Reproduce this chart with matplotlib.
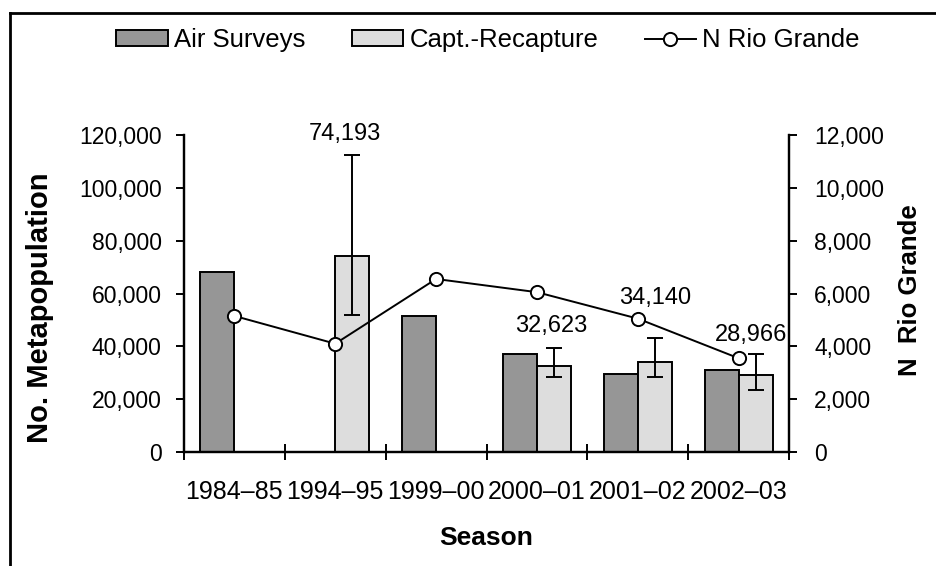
import numpy as np
import matplotlib
matplotlib.use("Agg")
from matplotlib import pyplot as plt
from matplotlib.lines import Line2D

plt.rcParams['font.family'] = ['Liberation Sans', 'DejaVu Sans']

seasons = ["1984\u201385", "1994\u201395", "1999\u201300", "2000\u201301", "2001\u201302", "2002\u201303"]
air_surveys = [68000, np.nan, 51500, 37000, 29500, 31000]
capt_recapture = [np.nan, 74193, np.nan, 32623, 34140, 28966]
cr_err_low = [np.nan, 51900, np.nan, 28400, 28400, 23500]
cr_err_high = [np.nan, 112400, np.nan, 39300, 43200, 37100]
n_rio_grande = [5150, 4100, 6550, 6050, 5050, 3550]

# where the value labels sit (data units) and their sideways nudge (px)
label_y = [np.nan, 120500, np.nan, 47700, 58300, 44300]
label_dx = [0, -7, 0, -3, 0, -5]

fig = plt.figure(figsize=(9.36, 5.66), dpi=100)
ax = fig.add_axes([184 / 936, 1 - 452 / 566, 605 / 936, 317 / 566])
ax2 = ax.twinx()

x = np.arange(len(seasons))
w = 0.337
cr = np.array(capt_recapture)
err = [cr - np.array(cr_err_low), np.array(cr_err_high) - cr]

ax.bar(x - w / 2, air_surveys, w, color="#969696", edgecolor="black", lw=1.4,
       label="Air Surveys")
ax.bar(x + w / 2, capt_recapture, w, color="#dddddd", edgecolor="black", lw=1.4,
       label="Capt.-Recapture")
ax.errorbar(x + w / 2, capt_recapture, yerr=err, fmt="none", ecolor="black",
            elinewidth=1.4, capsize=5.5, capthick=1.4)
for i, v in enumerate(capt_recapture):
    if not np.isnan(v):
        ax.annotate(f"{v:,.0f}", (x[i] + w / 2, label_y[i]), xytext=(label_dx[i], 0),
                    textcoords="offset pixels", ha="center", va="center", fontsize=17,
                    annotation_clip=False)

ax2.plot(x, n_rio_grande, color="black", lw=1.4, marker="o", ms=9.5,
         mfc="white", mec="black", mew=1.4, label="N Rio Grande", zorder=5)

ax.set_xlim(-0.5, len(seasons) - 0.5)
ax.set_ylim(0, 120000)
ax2.set_ylim(0, 12000)
ax.set_yticks(np.arange(0, 120001, 20000))
ax2.set_yticks(np.arange(0, 12001, 2000))
ax.yaxis.set_major_formatter(matplotlib.ticker.StrMethodFormatter("{x:,.0f}"))
ax2.yaxis.set_major_formatter(matplotlib.ticker.StrMethodFormatter("{x:,.0f}"))

ax.set_xticks(np.arange(-0.5, len(seasons)), labels=[])
ax.set_xticks(x, labels=seasons, minor=True)
ax.tick_params(axis="x", which="major", direction="inout", length=12, width=1.4)
ax.tick_params(axis="x", which="minor", length=0, labelsize=18, pad=20)
ax.tick_params(axis="y", direction="out", length=6, width=1.4, labelsize=16.5, pad=10)
ax2.tick_params(axis="y", direction="out", length=6, width=1.4, labelsize=16.5, pad=12)

for a in (ax, ax2):
    a.spines["top"].set_visible(False)
    for s in a.spines.values():
        s.set_linewidth(1.6)
ax2.patch.set_visible(False)

ax.set_xlabel("Season", fontsize=19, fontweight="bold")
ax.xaxis.set_label_coords(0.5, -0.235)
ax.set_ylabel("No. Metapopulation", fontsize=21, fontweight="bold")
ax.yaxis.set_label_coords(-0.215, 0.454)
ax2.set_ylabel("N  Rio Grande", fontsize=18.5, fontweight="bold")
ax2.yaxis.set_label_coords(1.18, 0.51)

h1, l1 = ax.get_legend_handles_labels()
h2, l2 = ax2.get_legend_handles_labels()
fig.legend(h1 + h2, l1 + l2, loc="center", bbox_to_anchor=(488 / 936, 1 - 40 / 566), ncol=3,
           frameon=False, fontsize=18.5, handlelength=2.0, handleheight=0.55,
           columnspacing=1.8, handletextpad=0.25, borderaxespad=0)

fig.add_artist(Line2D([10 / 936, 10 / 936], [0, 1 - 13 / 566], color="black", lw=2))
fig.add_artist(Line2D([10 / 936, 1], [1 - 13 / 566, 1 - 13 / 566], color="black", lw=2))

fig.savefig("out.png", dpi=100)
